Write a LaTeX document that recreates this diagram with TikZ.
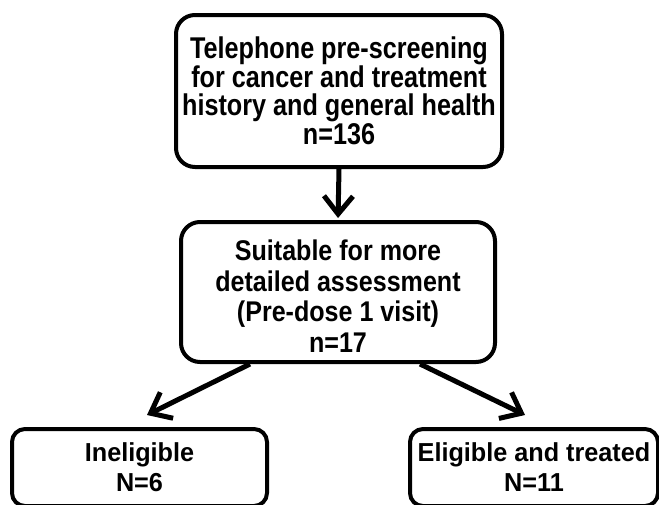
\documentclass[tikz,border=0pt]{standalone}
\usepackage{fontspec}
\setmainfont{Liberation Sans}
\newfontfamily\tallfont{Liberation Sans}[FakeStretch=0.84]
\newfontfamily\midfont{Liberation Sans}[FakeStretch=0.88]
\newfontfamily\lowfont{Liberation Sans}[FakeStretch=0.97]
\usetikzlibrary{arrows.meta}

\begin{document}
\begin{tikzpicture}[x=1pt,y=-1pt,
        flowbox/.style={draw,line width=4pt,align=center,inner sep=0pt},
        flowarrow/.style={line width=5pt,-{Straight Barb[length=18pt,width=29pt]}}]
            \clip (0,0) rectangle (659,504);

            % screening
            \node[flowbox,rounded corners=19pt,minimum width=326pt,minimum height=152pt,font=\tallfont\bfseries\fontsize{30}{28.5}\selectfont] (telephone) at (339,91) {Telephone pre-screening\\for cancer and treatment\\history and general health\\n=136};

            % assessment
            \node[flowbox,rounded corners=19pt,minimum width=314pt,minimum height=140pt,font=\midfont\bfseries\fontsize{28.5}{30.5}\selectfont] (suitable) at (338,292) {\rule{0pt}{29pt}Suitable for more\\detailed assessment\\(Pre-dose 1 visit)\\n=17};

            % outcome
            \node[flowbox,rounded corners=13pt,minimum width=255pt,minimum height=77pt,font=\lowfont\bfseries\fontsize{26}{30}\selectfont] (ineligible) at (139.5,467.5) {Ineligible\\N=6};
            \node[flowbox,rounded corners=13pt,minimum width=248pt,minimum height=77pt,font=\lowfont\bfseries\fontsize{26}{30}\selectfont] (eligible) at (534,467.5) {Eligible and treated\\N=11};

            \draw[flowarrow,shorten >=2pt] (telephone.south) -- (suitable.north);
            \draw[flowarrow] ([xshift=-88pt]suitable.south) -- ([xshift=7.5pt,yshift=12pt]ineligible.north);
            \draw[flowarrow] ([xshift=82pt]suitable.south) -- ([xshift=-9pt,yshift=12pt]eligible.north);
        \end{tikzpicture}
\end{document}
